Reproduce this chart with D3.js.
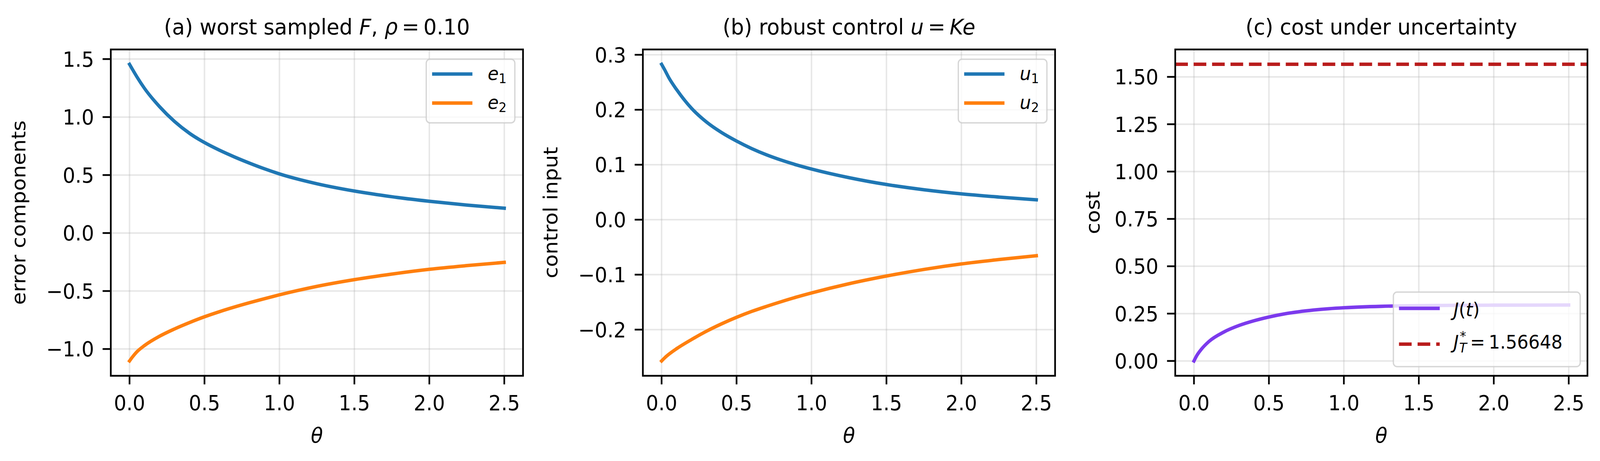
<!DOCTYPE html>
<html>
<head>
<meta charset="utf-8">
<script src="https://cdn.jsdelivr.net/npm/d3@7"></script>
<style>
  html, body { margin: 0; padding: 0; background: #fff; overflow: hidden; width: 100%; height: 100%; }
  #chart { width: 100vw; height: 100vh; }
  svg { display: block; width: 100vw; height: 100vh; font-family: "DejaVu Sans", sans-serif; }
</style>
</head>
<body>
<div id="chart"></div>
<script>
// values
const theta = [0, 0.02, 0.05, 0.1, 0.2, 0.3, 0.4, 0.5, 0.6, 0.7, 0.8, 0.9, 1.0, 1.25, 1.5, 1.75, 2.0, 2.25, 2.5];
const e1 = [1.455, 1.41, 1.345, 1.247, 1.090, 0.962, 0.860, 0.780, 0.714, 0.656, 0.603, 0.554, 0.510, 0.425, 0.362, 0.313, 0.274, 0.241, 0.214];
const e2 = [-1.103, -1.068, -1.023, -0.970, -0.890, -0.827, -0.772, -0.722, -0.678, -0.638, -0.601, -0.566, -0.533, -0.460, -0.402, -0.354, -0.313, -0.281, -0.253];
const u1 = [0.2827, 0.273, 0.2574, 0.2367, 0.2025, 0.1775, 0.1585, 0.1430, 0.1295, 0.1180, 0.1082, 0.0997, 0.0922, 0.0765, 0.0640, 0.0545, 0.0470, 0.0412, 0.0362];
const u2 = [-0.257, -0.2515, -0.2445, -0.2347, -0.2180, -0.2028, -0.1895, -0.1776, -0.1670, -0.1577, -0.1490, -0.1408, -0.1333, -0.1165, -0.1025, -0.0905, -0.0805, -0.0725, -0.0656];
const costJ = [0, 0.030, 0.0625, 0.103, 0.153, 0.187, 0.212, 0.232, 0.248, 0.260, 0.269, 0.276, 0.281, 0.2885, 0.2920, 0.2937, 0.2946, 0.2951, 0.2954];
const jStar = 1.56648;

// tick values
const xTicks = [0, 0.5, 1.0, 1.5, 2.0, 2.5];
const yTicksA = [-1.0, -0.5, 0.0, 0.5, 1.0, 1.5];
const yTicksB = [-0.2, -0.1, 0.0, 0.1, 0.2, 0.3];
const yTicksC = [0, 0.25, 0.5, 0.75, 1.0, 1.25, 1.5];

const W = 4299, H = 1181;
const axTop = 126.7, axW = 1107.6, axH = 836;
const lineW = 8.8;
const tickFont = 53, titleFont = 56, legendFont = 48;

// draw in a fixed 4299x1181 user space and let the viewBox fit it to the window
const svg = d3.select('#chart').append('svg')
  .attr('viewBox', `0 0 ${W} ${H}`)
  .attr('preserveAspectRatio', 'none');

svg.append('rect').attr('width', W).attr('height', H).attr('fill', '#fff');

// matplotlib style 5% margins
function padded(lo, hi) {
  const m = (hi - lo) * 0.05;
  return [lo - m, hi + m];
}

// writes text made of plain and italic pieces, subscripts via dy
function richText(sel, parts, size) {
  parts.forEach(function(p) {
    const ts = sel.append('tspan').text(p.t);
    if (p.it) ts.attr('font-style', 'italic');
    if (p.sub) ts.attr('font-size', size * 0.7).attr('dy', size * 0.17);
  });
  return sel;
}

const panels = [
  {
    left: 297.7,
    title: [{t: '(a) worst sampled '}, {t: 'F', it: true}, {t: ', '}, {t: 'ρ', it: true}, {t: '\u2009=\u20090.10'}],
    ylabel: 'error components',
    ylabelOffset: 230,
    yTicks: yTicksA,
    fmt: d3.format('.1f'),
    series: [
      {values: e1, color: '#1f77b4', label: [{t: 'e', it: true}, {t: '1', sub: true}]},
      {values: e2, color: '#ff7f0e', label: [{t: 'e', it: true}, {t: '2', sub: true}]}
    ],
    legend: 'upper'
  },
  {
    left: 1727.3,
    title: [{t: '(b) robust control '}, {t: 'u', it: true}, {t: '\u2009=\u2009'}, {t: 'Ke', it: true}],
    ylabel: 'control input',
    ylabelOffset: 230,
    yTicks: yTicksB,
    fmt: d3.format('.1f'),
    series: [
      {values: u1, color: '#1f77b4', label: [{t: 'u', it: true}, {t: '1', sub: true}]},
      {values: u2, color: '#ff7f0e', label: [{t: 'u', it: true}, {t: '2', sub: true}]}
    ],
    legend: 'upper'
  },
  {
    left: 3157.7,
    title: [{t: '(c) cost under uncertainty'}],
    ylabel: 'cost',
    ylabelOffset: 203,
    yTicks: yTicksC,
    fmt: d3.format('.2f'),
    series: [
      {values: costJ, color: '#7c3aed', label: [{t: 'J', it: true}, {t: '('}, {t: 't', it: true}, {t: ')'}]}
    ],
    hline: {value: jStar, color: '#b91c1c'},
    legend: 'lower'
  }
];

const defs = svg.append('defs');

panels.forEach(function(p, pi) {
  const x = d3.scaleLinear()
    .domain(padded(d3.min(theta), d3.max(theta)))
    .range([p.left, p.left + axW]);

  let lo = d3.min(p.series, s => d3.min(s.values));
  let hi = d3.max(p.series, s => d3.max(s.values));
  if (p.hline) { lo = Math.min(lo, p.hline.value); hi = Math.max(hi, p.hline.value); }
  const y = d3.scaleLinear().domain(padded(lo, hi)).range([axTop + axH, axTop]);

  const g = svg.append('g').attr('class', 'panel-' + pi);

  defs.append('clipPath').attr('id', 'clip' + pi)
    .append('rect').attr('x', p.left).attr('y', axTop).attr('width', axW).attr('height', axH);

  // grid
  const grid = g.append('g').attr('stroke', '#b0b0b0').attr('stroke-opacity', 0.3).attr('stroke-width', 4);
  grid.selectAll('.gx').data(xTicks).enter().append('line')
    .attr('x1', d => x(d)).attr('x2', d => x(d))
    .attr('y1', axTop).attr('y2', axTop + axH);
  grid.selectAll('.gy').data(p.yTicks).enter().append('line')
    .attr('x1', p.left).attr('x2', p.left + axW)
    .attr('y1', d => y(d)).attr('y2', d => y(d));

  // curves
  const plot = g.append('g').attr('clip-path', 'url(#clip' + pi + ')');
  p.series.forEach(function(s) {
    const line = d3.line()
      .x((d, i) => x(theta[i]))
      .y(d => y(d))
      .curve(d3.curveMonotoneX);
    plot.append('path')
      .datum(s.values)
      .attr('d', line)
      .attr('fill', 'none')
      .attr('stroke', s.color)
      .attr('stroke-width', lineW)
      .attr('stroke-linecap', 'square')
      .attr('stroke-linejoin', 'round');
  });

  if (p.hline) {
    plot.append('line')
      .attr('x1', p.left).attr('x2', p.left + axW)
      .attr('y1', y(p.hline.value)).attr('y2', y(p.hline.value))
      .attr('stroke', p.hline.color)
      .attr('stroke-width', lineW)
      .attr('stroke-dasharray', '34 15.5');
  }

  // legend
  const lg = g.append('g');
  let box, rows, textX, handle, baseOff;
  if (p.legend === 'upper') {
    box = {w: 238, h: 163};
    box.x = p.left + axW - 22 - box.w;
    box.y = axTop + 25;
    rows = [38, 112.3];
    baseOff = [15, 15];
    handle = [15.7, 124];
    textX = 165;
  } else {
    box = {w: 502, h: 191};
    box.x = p.left + axW - 19.5 - box.w;
    box.y = axTop + axH - 23.4 - box.h;
    rows = [41.7, 133.4];
    baseOff = [20, 11.6];
    handle = [15.1, 124.6];
    textX = 161.6;
  }
  lg.append('rect')
    .attr('x', box.x).attr('y', box.y)
    .attr('width', box.w).attr('height', box.h)
    .attr('rx', 10).attr('ry', 10)
    .attr('fill', '#fff').attr('fill-opacity', 0.8)
    .attr('stroke', '#cccccc').attr('stroke-opacity', 0.8)
    .attr('stroke-width', 3.5);

  p.series.forEach(function(s, i) {
    lg.append('line')
      .attr('x1', box.x + handle[0]).attr('x2', box.x + handle[1])
      .attr('y1', box.y + rows[i]).attr('y2', box.y + rows[i])
      .attr('stroke', s.color).attr('stroke-width', lineW);
    richText(lg.append('text')
      .attr('x', box.x + textX).attr('y', box.y + rows[i] + baseOff[i])
      .attr('font-size', legendFont), s.label, legendFont);
  });

  if (p.hline) {
    const i = p.series.length;
    const ry = box.y + rows[i];
    lg.append('line')
      .attr('x1', box.x + handle[0]).attr('x2', box.x + handle[1])
      .attr('y1', ry).attr('y2', ry)
      .attr('stroke', p.hline.color).attr('stroke-width', lineW)
      .attr('stroke-dasharray', '34 16');

    // J^*_T = value, star and T stacked after the J
    const small = legendFont * 0.7;
    const probe = lg.append('text').attr('font-size', small).text('*');
    const starW = probe.node().getComputedTextLength();
    probe.remove();
    const lbl = lg.append('text')
      .attr('x', box.x + textX).attr('y', ry + baseOff[i])
      .attr('font-size', legendFont);
    lbl.append('tspan').attr('font-style', 'italic').text('J');
    lbl.append('tspan').attr('font-size', small)
      .attr('dx', 3).attr('dy', -legendFont * 0.42).text('*');
    lbl.append('tspan').attr('font-size', small).attr('font-style', 'italic')
      .attr('dx', -(starW + 2)).attr('dy', legendFont * 0.62).text('T');
    lbl.append('tspan')
      .attr('dx', 9).attr('dy', -legendFont * 0.2)
      .text('=\u2009' + d3.format('.5f')(p.hline.value));
  }

  // spines
  g.append('rect')
    .attr('x', p.left).attr('y', axTop)
    .attr('width', axW).attr('height', axH)
    .attr('fill', 'none').attr('stroke', '#000').attr('stroke-width', 4.5);

  // x ticks
  const xt = g.append('g');
  xt.selectAll('line').data(xTicks).enter().append('line')
    .attr('x1', d => x(d)).attr('x2', d => x(d))
    .attr('y1', axTop + axH).attr('y2', axTop + axH + 22)
    .attr('stroke', '#000').attr('stroke-width', 4.5);
  xt.selectAll('text').data(xTicks).enter().append('text')
    .attr('x', d => x(d)).attr('y', axTop + axH + 88)
    .attr('text-anchor', 'middle').attr('font-size', tickFont)
    .text(d => d3.format('.1f')(d));

  // y ticks
  const yt = g.append('g');
  yt.selectAll('line').data(p.yTicks).enter().append('line')
    .attr('x1', p.left - 22).attr('x2', p.left)
    .attr('y1', d => y(d)).attr('y2', d => y(d))
    .attr('stroke', '#000').attr('stroke-width', 4.5);
  yt.selectAll('text').data(p.yTicks).enter().append('text')
    .attr('x', p.left - 45).attr('y', d => y(d) + tickFont * 0.365)
    .attr('text-anchor', 'end').attr('font-size', tickFont)
    .text(d => p.fmt(d));

  // axis labels
  g.append('text')
    .attr('x', p.left + axW / 2).attr('y', 1134)
    .attr('text-anchor', 'middle').attr('font-size', tickFont)
    .attr('font-style', 'italic').text('θ');
  g.append('text')
    .attr('transform', `translate(${p.left - p.ylabelOffset}, ${axTop + axH / 2}) rotate(-90)`)
    .attr('text-anchor', 'middle').attr('font-size', tickFont)
    .text(p.ylabel);

  // title
  richText(g.append('text')
    .attr('x', p.left + axW / 2).attr('y', 88.3)
    .attr('text-anchor', 'middle').attr('font-size', titleFont), p.title, titleFont);
});
</script>
</body>
</html>
